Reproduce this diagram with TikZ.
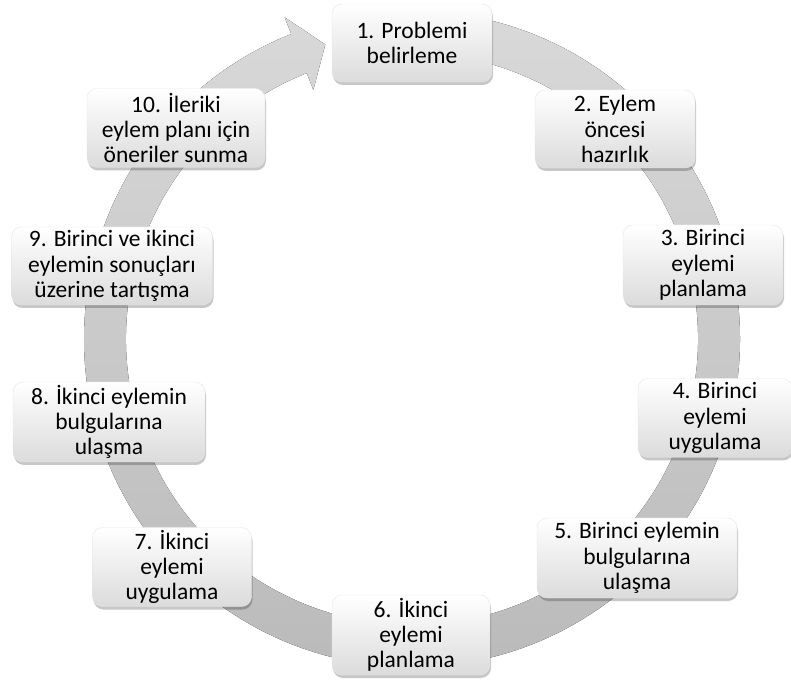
\documentclass[tikz,border=0pt]{standalone}
\usepackage{fontspec}
\setmainfont{Carlito}
\usetikzlibrary{shadows}
\tikzset{
  stepbox/.style={rounded corners=10pt, inner sep=0pt, align=center,
    top color=white, bottom color=black!14, draw=black!10, line width=0.4pt,
    font=\fontsize{23.5}{25.3}\selectfont,
    drop shadow={shadow xshift=1pt, shadow yshift=-3pt, opacity=0.22, fill=black}},
  ringfill/.style={top color=black!15, bottom color=black!27}
}
\begin{document}
\begin{tikzpicture}[x=1pt,y=1pt]
\useasboundingbox (0,0) rectangle (791,682);
\coordinate (C) at (412,343);
% circular arrow band
\begin{scope}[shift={(C)}]
\fill[ringfill] (88:328pt) arc[start angle=88, end angle=-248.4, radius=328pt]
  -- (-248.4:346pt) -- (-253.6:307pt) -- (-248.4:268pt) -- (-248.4:286pt)
  arc[start angle=-248.4, end angle=88, radius=286pt] -- cycle;
\end{scope}
% steps
\node[stepbox, minimum width=160pt, minimum height=78pt] (s1) at (412,639) {1. Problemi\\belirleme};
\node[stepbox, minimum width=160pt, minimum height=78pt] (s2) at (615,553) {2. Eylem\\öncesi\\hazırlık};
\node[stepbox, minimum width=160pt, minimum height=80pt] (s3) at (703,417) {3. Birinci\\eylemi\\planlama};
\node[stepbox, minimum width=154pt, minimum height=79pt] (s4) at (715,264) {4. Birinci\\eylemi\\uygulama};
\node[stepbox, minimum width=200pt, minimum height=80pt] (s5) at (637,124) {5. Birinci eylemin\\bulgularına\\ulaşma};
\node[stepbox, minimum width=158pt, minimum height=80pt] (s6) at (411,47) {6. İkinci\\eylemi\\planlama};
\node[stepbox, minimum width=159pt, minimum height=79pt] (s7) at (172,115) {7. İkinci\\eylemi\\uygulama};
\node[stepbox, minimum width=192pt, minimum height=80pt] (s8) at (109,260) {8. İkinci eylemin\\bulgularına\\ulaşma};
\node[stepbox, minimum width=201pt, minimum height=78pt] (s9) at (112,416) {9. Birinci ve ikinci\\eylemin sonuçları\\üzerine tartışma};
\node[stepbox, minimum width=178pt, minimum height=79pt] (s10) at (176,554) {10. İleriki\\eylem planı için\\öneriler sunma};
\end{tikzpicture}
\end{document}
